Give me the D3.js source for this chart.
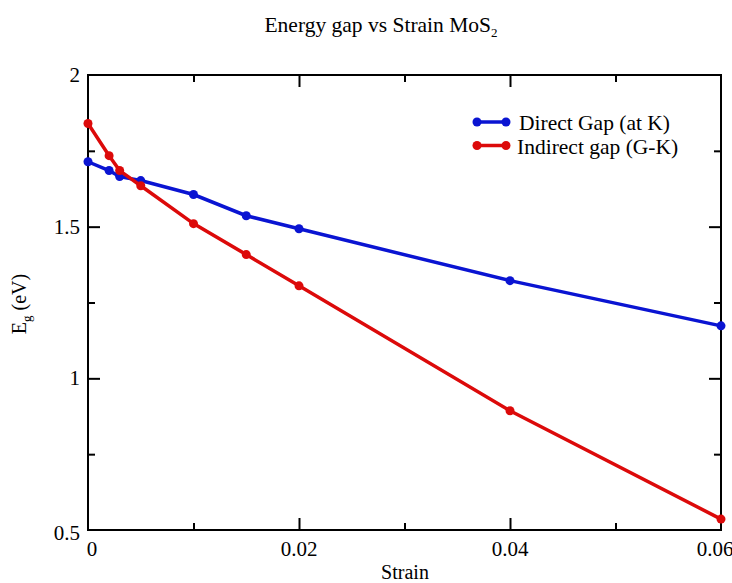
<!DOCTYPE html>
<html>
<head>
<meta charset="utf-8">
<script src="https://cdn.jsdelivr.net/npm/d3@7"></script>
<style>
body { margin: 0; background: #fff; }
text { font-family: "Liberation Serif", "DejaVu Serif", serif; fill: #000; }
</style>
</head>
<body>
<script>
// данные с графика
var strain = [0, 0.002, 0.003, 0.005, 0.01, 0.015, 0.02, 0.04, 0.06];
var directGap = [1.714, 1.685, 1.665, 1.652, 1.606, 1.536, 1.493, 1.322, 1.173];
var indirectGap = [1.84, 1.734, 1.685, 1.635, 1.51, 1.408, 1.305, 0.893, 0.536];
var seriesNames = ["Direct Gap (at K)", "Indirect gap (G-K)"];
var seriesColors = ["#0a14d2", "#dc0a0a"];
var xTicks = [0, 0.02, 0.04, 0.06];
var xMinor = [0.01, 0.03, 0.05];
var yTicks = [0.5, 1, 1.5, 2];
var yMinor = [0.75, 1.25, 1.75];

var width = 732, height = 583;
var xLeft = 88, xRight = 721, yTop = 75, yBottom = 530;
var majorLen = 12, minorLen = 7;

var svg = d3.select("body").append("svg")
    .attr("width", width)
    .attr("height", height);

var x = d3.scaleLinear().domain([0, 0.06]).range([xLeft, xRight]);
var y = d3.scaleLinear().domain([0.5, 2]).range([yBottom, yTop]);

//тики внутрь, на всех четырёх сторонах
function tickAxis(axis, pos, len) {
    var g = svg.append("g").attr("transform", pos).call(axis.tickSizeInner(len).tickSizeOuter(0).tickFormat(""));
    g.select(".domain").remove();
    g.selectAll(".tick line").attr("stroke", "#000").attr("stroke-width", 2);
    g.selectAll(".tick text").remove();
    return g;
}

var xInner = xTicks.filter(function(d){ return d > 0 && d < 0.06; });
var yInner = yTicks.filter(function(d){ return d > 0.5 && d < 2; });

tickAxis(d3.axisTop(x).tickValues(xInner), "translate(0," + yBottom + ")", majorLen);
tickAxis(d3.axisTop(x).tickValues(xMinor), "translate(0," + yBottom + ")", minorLen);
tickAxis(d3.axisBottom(x).tickValues(xInner), "translate(0," + yTop + ")", majorLen);
tickAxis(d3.axisBottom(x).tickValues(xMinor), "translate(0," + yTop + ")", minorLen);
tickAxis(d3.axisRight(y).tickValues(yInner), "translate(" + xLeft + ",0)", majorLen);
tickAxis(d3.axisRight(y).tickValues(yMinor), "translate(" + xLeft + ",0)", minorLen);
tickAxis(d3.axisLeft(y).tickValues(yInner), "translate(" + xRight + ",0)", majorLen);
tickAxis(d3.axisLeft(y).tickValues(yMinor), "translate(" + xRight + ",0)", minorLen);

var fmtX = function(d) { return d == 0 ? "0" : d3.format(".2f")(d); };
var fmtY = function(d) { return String(d); };

// подписи тиков
svg.append("g").selectAll("text").data(xTicks).enter().append("text")
    .attr("x", function(d){ return x(d) + (d == 0 ? 4 : (d == 0.06 ? -6 : 0)); })
    .attr("y", yBottom + 26)
    .attr("text-anchor", "middle")
    .attr("font-size", 21)
    .text(fmtX);

svg.append("g").selectAll("text").data(yTicks).enter().append("text")
    .attr("x", xLeft - 8)
    .attr("y", function(d){ return y(d) + (d == 0.5 ? 10 : 7); })
    .attr("text-anchor", "end")
    .attr("font-size", 21)
    .text(fmtY);

// рамка
svg.append("rect")
    .attr("x", xLeft).attr("y", yTop)
    .attr("width", xRight - xLeft).attr("height", yBottom - yTop)
    .attr("fill", "none").attr("stroke", "#000").attr("stroke-width", 2);

// линии
var line = d3.line().x(function(d){ return x(d[0]); }).y(function(d){ return y(d[1]); });
[directGap, indirectGap].forEach(function(vals, i) {
    var pts = strain.map(function(s, j){ return [s, vals[j]]; });
    svg.append("path").datum(pts)
        .attr("d", line)
        .attr("fill", "none")
        .attr("stroke", seriesColors[i])
        .attr("stroke-width", 3.5);
    svg.append("g").selectAll("circle").data(pts).enter().append("circle")
        .attr("cx", function(d){ return x(d[0]); })
        .attr("cy", function(d){ return y(d[1]); })
        .attr("r", 4.5)
        .attr("fill", seriesColors[i]);
});

// легенда
seriesNames.forEach(function(name, i) {
    var ly = 122 + i * 23.5;
    svg.append("line").attr("x1", 477).attr("x2", 506).attr("y1", ly).attr("y2", ly)
        .attr("stroke", seriesColors[i]).attr("stroke-width", 3.5);
    svg.append("circle").attr("cx", 477).attr("cy", ly).attr("r", 4.5).attr("fill", seriesColors[i]);
    svg.append("circle").attr("cx", 506).attr("cy", ly).attr("r", 4.5).attr("fill", seriesColors[i]);
    svg.append("text").attr("x", i == 0 ? 519 : 517).attr("y", ly + 8)
        .attr("font-size", 21.5).text(name);
});

// заголовок
var title = svg.append("text").attr("x", 381).attr("y", 32)
    .attr("text-anchor", "middle").attr("font-size", 21.5);
title.append("tspan").text("Energy gap vs Strain MoS");
title.append("tspan").attr("font-size", 13).attr("dy", 5).text("2");

// подписи осей
svg.append("text").attr("x", 405).attr("y", 579)
    .attr("text-anchor", "middle").attr("font-size", 20).text("Strain");

var yl = svg.append("text")
    .attr("transform", "translate(26," + 304 + ") rotate(-90)")
    .attr("text-anchor", "middle").attr("font-size", 20);
yl.append("tspan").text("E");
yl.append("tspan").attr("font-size", 13).attr("dy", 5).text("g");
yl.append("tspan").attr("dy", -5).text(" (eV)");
</script>
</body>
</html>
